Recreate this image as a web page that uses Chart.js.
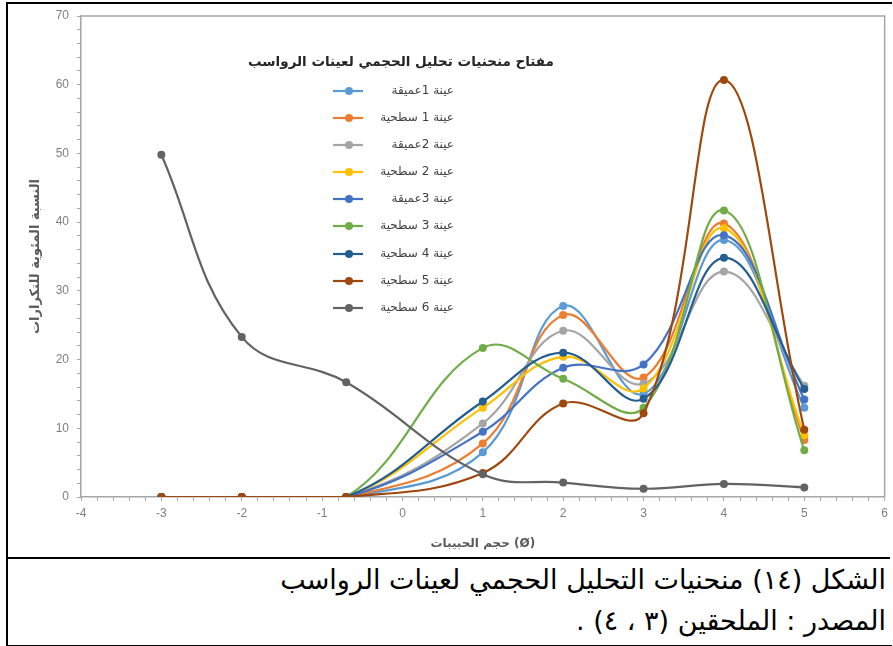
<!DOCTYPE html>
<html lang="ar">
<head>
<meta charset="utf-8">
<script src="https://cdn.jsdelivr.net/npm/chart.js@4.4.1/dist/chart.umd.min.js"></script>
<style>
  html, body { margin: 0; padding: 0; background: #fff; }
  #page { position: relative; width: 893px; height: 646px; overflow: hidden; }
  #box { position: absolute; left: 6px; top: 2px; width: 884px; height: 641px; border: 2px solid #000; border-right: none; box-sizing: content-box; }
  #sep { position: absolute; left: 6px; top: 557px; width: 884px; height: 2px; background: #000; }
  #wrap { position: absolute; left: 0; top: 0; width: 893px; height: 558px; }
  #caption { position: absolute; right: 7px; top: 559px; width: 870px; direction: rtl; text-align: right;
    font-family: "DejaVu Sans", sans-serif; font-size: 27px; line-height: 41px; color: #000; }
</style>
</head>
<body>
<div id="page">
  <div id="box"></div>
  <div id="sep"></div>
  <div id="wrap"><canvas id="myChart" width="893" height="558"></canvas></div>
  <div id="caption">الشكل (١٤) منحنيات التحليل الحجمي لعينات الرواسب<br>المصدر : الملحقين (٣ ، ٤) .</div>
</div>
<script>
// البيانات
const sizes = [-3, -2, -0.7, 1, 2, 3, 4, 5];
const names = ["عينة 1عميقة", "عينة 1 سطحية", "عينة 2عميقة", "عينة 2 سطحية", "عينة 3عميقة",
  "عينة 3 سطحية", "عينة 4 سطحية", "عينة 5 سطحية", "عينة 6 سطحية"];
const s1deep = [0, 0, 0, 6.5, 27.8, 15.0, 37.4, 13.0];
const s1surf = [0, 0, 0, 7.8, 26.5, 17.4, 39.8, 8.3];
const s2deep = [0, 0, 0, 10.7, 24.2, 16.5, 32.8, 16.2];
const s2surf = [0, 0, 0, 13.0, 20.4, 15.8, 39.1, 9.0];
const s3deep = [0, 0, 0, 9.5, 18.8, 19.3, 38.1, 14.2];
const s3surf = [0, 0, 0, 21.7, 17.2, 13.0, 41.7, 6.8];
const s4surf = [0, 0, 0, 13.9, 21.0, 14.3, 34.8, 15.7];
const s5surf = [0, 0, 0, 3.5, 13.6, 12.2, 60.7, 9.8];
const s6surf = [49.8, 23.3, 16.7, 3.3, 2.1, 1.2, 1.9, 1.4];
const colors = ["#5B9BD5", "#ED7D31", "#A5A5A5", "#FFC000", "#4472C4", "#70AD47", "#255E91", "#9E480E", "#636363"];

const legendTitle = "مفتاح منحنيات تحليل الحجمي لعينات الرواسب";
const xTitle = "حجم الحبيبات (Ø)";
const yTitle = "النسبة المئوية للتكرارات";

document.addEventListener("DOMContentLoaded", () => {
  const allSeries = [s1deep, s1surf, s2deep, s2surf, s3deep, s3surf, s4surf, s5surf, s6surf];
  const datasets = allSeries.map((vals, i) => ({
    label: names[i],
    data: vals.map((v, j) => ({ x: sizes[j], y: v })),
    borderColor: colors[i],
    backgroundColor: colors[i],
    borderWidth: 2.2,
    pointRadius: 4,
    pointBorderWidth: 0,
    tension: 0.4,
    fill: false,
    order: allSeries.length - i
  }));

  // إطار منطقة الرسم + مفتاح المنحنيات
  const extras = {
    id: "extras",
    afterDraw(chart) {
      const ctx = chart.ctx;
      const a = chart.chartArea;
      ctx.save();
      ctx.strokeStyle = "#a6a6a6";
      ctx.lineWidth = 1.5;
      ctx.beginPath();
      ctx.moveTo(a.left, a.top);
      ctx.lineTo(a.right, a.top);
      ctx.lineTo(a.right, a.bottom);
      ctx.stroke();

      ctx.direction = "rtl";
      ctx.fillStyle = "#262626";
      ctx.font = "bold 13.5px 'DejaVu Sans', sans-serif";
      ctx.textAlign = "center";
      ctx.textBaseline = "middle";
      ctx.fillText(legendTitle, 401, 62);

      ctx.font = "12px 'DejaVu Sans', sans-serif";
      ctx.textAlign = "right";
      const ys = [91, 118, 145, 172, 199, 226, 254, 281, 308];
      chart.data.datasets.forEach((ds, i) => {
        const y = ys[i];
        ctx.strokeStyle = ds.borderColor;
        ctx.lineWidth = 2.2;
        ctx.beginPath();
        ctx.moveTo(333, y);
        ctx.lineTo(363, y);
        ctx.stroke();
        ctx.fillStyle = ds.borderColor;
        ctx.beginPath();
        ctx.arc(349, y, 4, 0, Math.PI * 2);
        ctx.fill();
        ctx.fillStyle = "#404040";
        ctx.fillText(ds.label, 454, y);
      });
      ctx.restore();
    }
  };

  const tickFont = { family: "'Liberation Sans', sans-serif", size: 12 };
  const ctx = document.getElementById("myChart");
  new Chart(ctx, {
    type: "line",
    data: { datasets: datasets },
    plugins: [extras],
    options: {
      responsive: false,
      animation: false,
      layout: { padding: { left: 0, top: 16, right: 5, bottom: 0 } },
      plugins: { legend: { display: false }, tooltip: { enabled: false } },
      scales: {
        x: {
          type: "linear",
          min: -4, max: 6,
          afterFit: s => { s.height = 61; },
          ticks: {
            stepSize: 0.2, autoSkip: false, maxRotation: 0, color: "#7f7f7f", font: tickFont, padding: 5,
            callback: v => Math.abs(v - Math.round(v)) < 1e-6 ? String(Math.round(v)) : ""
          },
          grid: { drawOnChartArea: false, drawTicks: true, tickLength: 4, color: "#a6a6a6" },
          border: { color: "#a6a6a6", width: 1.5 },
          title: { display: true, text: xTitle, color: "#595959", padding: { top: 0, bottom: 7 },
            font: { family: "'DejaVu Sans', sans-serif", size: 12, weight: "bold" } }
        },
        y: {
          min: 0, max: 70,
          afterFit: s => { s.width = 81; },
          ticks: {
            stepSize: 2, autoSkip: false, color: "#7f7f7f", font: tickFont, padding: 8,
            callback: v => Math.round(v) % 10 === 0 ? String(Math.round(v)) : ""
          },
          grid: { drawOnChartArea: false, drawTicks: true, tickLength: 4, color: "#a6a6a6" },
          border: { color: "#a6a6a6", width: 1.5 },
          title: { display: true, text: yTitle, color: "#595959", padding: { top: 28, bottom: 0 },
            font: { family: "'DejaVu Sans', sans-serif", size: 13, weight: "bold" } }
        }
      }
    }
  });
});
</script>
</body>
</html>
